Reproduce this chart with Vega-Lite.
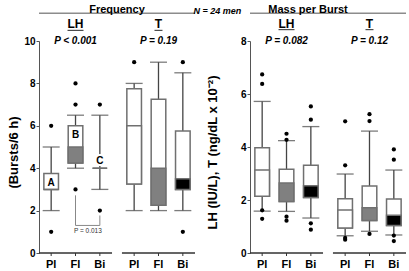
{
"$schema": "https://vega.github.io/schema/vega-lite/v6.json",
"padding": {"left": 7, "top": 4, "right": 0, "bottom": 0},
"config": {
  "font": "Liberation Sans",
  "view": {"stroke": null},
  "axisX": {"disable": true},
  "axisY": {"grid": false, "tickSize": 3, "labelPadding": 1, "labelFontSize": 10, "labelFontWeight": "bold", "labelColor": "#000", "titleFontSize": 13, "titleFontWeight": "bold", "titleColor": "#000", "domainColor": "#555", "tickColor": "#555", "titleY": 111},
  "title": {"color": "#000", "fontWeight": "bold", "font": "Liberation Sans"}
},
"title": {"text": "N = 24 men", "fontSize": 9, "fontStyle": "italic", "fontWeight": "bold", "anchor": "middle", "dx": 10, "offset": -12},
"spacing": 10,
"datasets": {
  "freqBox": [
    {"group":"LH","cond":"Pl","lo":2,"q1":3,"med":3,"q3":3.75,"hi":5,"letter":"A"},
    {"group":"LH","cond":"Fl","lo":4,"q1":4.25,"med":5,"q3":6,"hi":6.5,"letter":"B"},
    {"group":"LH","cond":"Bi","lo":3,"q1":4,"med":4,"q3":4,"hi":6.5,"letter":"C"},
    {"group":"T","cond":"Pl","lo":2,"q1":3.25,"med":6,"q3":7.75,"hi":8,"letter":""},
    {"group":"T","cond":"Fl","lo":2,"q1":2.25,"med":4,"q3":7.25,"hi":9,"letter":""},
    {"group":"T","cond":"Bi","lo":2,"q1":3,"med":3.5,"q3":5.75,"hi":8.5,"letter":""}
  ],
  "freqOut": [
    {"group":"LH","cond":"Pl","v":6},{"group":"LH","cond":"Pl","v":1},
    {"group":"LH","cond":"Fl","v":8},{"group":"LH","cond":"Fl","v":7},{"group":"LH","cond":"Fl","v":3},
    {"group":"LH","cond":"Bi","v":7},{"group":"LH","cond":"Bi","v":2},
    {"group":"T","cond":"Pl","v":9},
    {"group":"T","cond":"Bi","v":9},{"group":"T","cond":"Bi","v":1}
  ],
  "massBox": [
    {"group":"LH","cond":"Pl","lo":1.58,"q1":2.14,"med":3.13,"q3":3.97,"hi":5.72},
    {"group":"LH","cond":"Fl","lo":1.57,"q1":1.94,"med":2.64,"q3":3.16,"hi":4.24},
    {"group":"LH","cond":"Bi","lo":1.32,"q1":2.09,"med":2.54,"q3":3.31,"hi":4.77},
    {"group":"T","cond":"Pl","lo":0.65,"q1":0.94,"med":1.62,"q3":2.05,"hi":2.98},
    {"group":"T","cond":"Fl","lo":0.82,"q1":1.23,"med":1.71,"q3":2.53,"hi":4.6},
    {"group":"T","cond":"Bi","lo":0.68,"q1":1.04,"med":1.42,"q3":2.04,"hi":3.13}
  ],
  "massOut": [
    {"group":"LH","cond":"Pl","v":6.74},{"group":"LH","cond":"Pl","v":6.38},{"group":"LH","cond":"Pl","v":1.61},{"group":"LH","cond":"Pl","v":1.29},
    {"group":"LH","cond":"Fl","v":4.5},{"group":"LH","cond":"Fl","v":4.27},{"group":"LH","cond":"Fl","v":1.37},{"group":"LH","cond":"Fl","v":1.22},
    {"group":"LH","cond":"Bi","v":5.53},{"group":"LH","cond":"Bi","v":5.03},{"group":"LH","cond":"Bi","v":1.12},{"group":"LH","cond":"Bi","v":0.88},
    {"group":"T","cond":"Pl","v":4.97},{"group":"T","cond":"Pl","v":3.31},{"group":"T","cond":"Pl","v":0.57},{"group":"T","cond":"Pl","v":0.5},
    {"group":"T","cond":"Fl","v":5.24},{"group":"T","cond":"Fl","v":4.98},{"group":"T","cond":"Fl","v":0.72},
    {"group":"T","cond":"Bi","v":3.91},{"group":"T","cond":"Bi","v":3.52},{"group":"T","cond":"Bi","v":0.66},{"group":"T","cond":"Bi","v":0.45}
  ],
  "heads": [
    {"view":"freq","group":"LH","p":"P < 0.001"},
    {"view":"freq","group":"T","p":"P = 0.19"},
    {"view":"mass","group":"LH","p":"P = 0.082"},
    {"view":"mass","group":"T","p":"P = 0.12"}
  ],
  "bracket": [
    {"group":"LH","cond":"Fl","y":2.72,"ord":1},
    {"group":"LH","cond":"Fl","y":1.3,"ord":2},
    {"group":"LH","cond":"Bi","y":1.3,"ord":3},
    {"group":"LH","cond":"Bi","y":1.77,"ord":4}
  ],
  "note": [
    {"group":"LH","cond":"Bi","label":"P = 0.013","y":1.04}
  ]
},
"hconcat": [
  {
    "width": 156, "height": 212,
    "title": {"text": "Frequency", "fontSize": 11, "offset": -3},
    "layer": [
      {"data": {"name": "freqBox"}, "mark": {"type": "rule", "color": "#444", "strokeWidth": 1.3},
       "encoding": {
         "x": {"field": "group", "type": "nominal", "scale": {"domain": ["LH","T"], "paddingInner": 0.12, "paddingOuter": 0}, "axis": null},
         "xOffset": {"field": "cond", "type": "nominal", "scale": {"domain": ["Pl","Fl","Bi"], "paddingInner": 0.4, "paddingOuter": 0.2}},
         "y": {"field": "lo", "type": "quantitative", "scale": {"domain": [0,10], "nice": false}, "axis": {"title": "(Bursts/6 h)", "values": [0,2,4,6,8,10], "titlePadding": 3}},
         "y2": {"field": "hi"}}},
      {"data": {"name": "freqBox"}, "mark": {"type": "tick", "color": "#444", "size": 17, "thickness": 1.3},
       "encoding": {"x": {"field": "group", "type": "nominal"}, "xOffset": {"field": "cond", "type": "nominal"}, "y": {"field": "lo", "type": "quantitative"}}},
      {"data": {"name": "freqBox"}, "mark": {"type": "tick", "color": "#444", "size": 17, "thickness": 1.3},
       "encoding": {"x": {"field": "group", "type": "nominal"}, "xOffset": {"field": "cond", "type": "nominal"}, "y": {"field": "hi", "type": "quantitative"}}},
      {"data": {"name": "freqBox"}, "mark": {"type": "bar", "fill": "#ffffff", "stroke": "#707070", "strokeWidth": 1.5},
       "encoding": {"x": {"field": "group", "type": "nominal"}, "xOffset": {"field": "cond", "type": "nominal"}, "y": {"field": "q1", "type": "quantitative"}, "y2": {"field": "q3"}}},
      {"data": {"name": "freqBox"}, "mark": {"type": "bar", "stroke": "#707070", "strokeWidth": 1.5, "opacity": 1},
       "encoding": {"x": {"field": "group", "type": "nominal"}, "xOffset": {"field": "cond", "type": "nominal"}, "y": {"field": "q1", "type": "quantitative"}, "y2": {"field": "med"},
         "fill": {"field": "cond", "type": "nominal", "scale": {"domain": ["Pl","Fl","Bi"], "range": ["#ffffff","#808080","#000000"]}, "legend": null}}},
      {"data": {"name": "freqOut"}, "mark": {"type": "point", "filled": true, "size": 18, "color": "#000", "opacity": 1},
       "encoding": {"x": {"field": "group", "type": "nominal"}, "xOffset": {"field": "cond", "type": "nominal"}, "y": {"field": "v", "type": "quantitative"}}},
      {"data": {"name": "freqBox"}, "transform": [{"filter": "datum.letter === 'A' || datum.letter === 'B'"}],
       "mark": {"type": "text", "fontSize": 10, "fontWeight": "bold", "color": "#000", "dy": 9, "baseline": "middle"},
       "encoding": {"x": {"field": "group", "type": "nominal"}, "xOffset": {"field": "cond", "type": "nominal"}, "y": {"field": "q3", "type": "quantitative"}, "text": {"field": "letter"}}},
      {"data": {"name": "freqBox"}, "transform": [{"filter": "datum.letter === 'C'"}],
       "mark": {"type": "text", "fontSize": 10, "fontWeight": "bold", "color": "#fff", "stroke": "#fff", "strokeWidth": 4, "dy": -7, "baseline": "middle"},
       "encoding": {"x": {"field": "group", "type": "nominal"}, "xOffset": {"field": "cond", "type": "nominal"}, "y": {"field": "q3", "type": "quantitative"}, "text": {"field": "letter"}}},
      {"data": {"name": "freqBox"}, "transform": [{"filter": "datum.letter === 'C'"}],
       "mark": {"type": "text", "fontSize": 10, "fontWeight": "bold", "color": "#000", "dy": -7, "baseline": "middle"},
       "encoding": {"x": {"field": "group", "type": "nominal"}, "xOffset": {"field": "cond", "type": "nominal"}, "y": {"field": "q3", "type": "quantitative"}, "text": {"field": "letter"}}},
      {"data": {"name": "bracket"}, "mark": {"type": "line", "color": "#888", "strokeWidth": 1},
       "encoding": {"x": {"field": "group", "type": "nominal"}, "xOffset": {"field": "cond", "type": "nominal"}, "y": {"field": "y", "type": "quantitative"}, "order": {"field": "ord"}}},
      {"data": {"name": "note"}, "mark": {"type": "text", "fontSize": 6.5, "color": "#333", "align": "right", "dx": 2, "baseline": "middle"},
       "encoding": {"x": {"field": "group", "type": "nominal"}, "xOffset": {"field": "cond", "type": "nominal"}, "y": {"field": "y", "type": "quantitative"}, "text": {"field": "label"}}},
      {"data": {"name": "heads"}, "transform": [{"filter": "datum.view === 'freq'"}, {"aggregate": [{"op": "count", "as": "n"}]}],
       "mark": {"type": "rule", "color": "#8c8c8c", "strokeWidth": 1.5},
       "encoding": {"y": {"datum": 11.31}}},
      {"data": {"name": "heads"}, "transform": [{"filter": "datum.view === 'freq'"}],
       "mark": {"type": "text", "fontSize": 12, "fontWeight": "bold", "color": "#000", "baseline": "middle"},
       "encoding": {"x": {"field": "group", "type": "nominal"}, "y": {"datum": 10.78}, "text": {"field": "group"}}},
      {"data": {"name": "heads"}, "transform": [{"filter": "datum.view === 'freq'"}],
       "mark": {"type": "tick", "thickness": 1.2, "color": "#000"},
       "encoding": {"x": {"field": "group", "type": "nominal"}, "y": {"datum": 10.5}, "size": {"condition": {"test": "datum.group === 'LH'", "value": 16}, "value": 8}}},
      {"data": {"name": "heads"}, "transform": [{"filter": "datum.view === 'freq'"}],
       "mark": {"type": "text", "fontSize": 10, "fontWeight": "bold", "fontStyle": "italic", "color": "#000", "baseline": "middle"},
       "encoding": {"x": {"field": "group", "type": "nominal"}, "y": {"datum": 10}, "text": {"field": "p"}}},
      {"data": {"name": "heads"}, "transform": [{"filter": "datum.view === 'freq'"}],
       "mark": {"type": "rect", "fill": "transparent", "stroke": "#333", "strokeWidth": 1},
       "encoding": {"x": {"field": "group", "type": "nominal"}, "y": {"datum": 0}, "y2": {"datum": 0}}},
      {"data": {"name": "freqBox"}, "mark": {"type": "rule", "color": "#333", "strokeWidth": 1, "y2Offset": 3},
       "encoding": {"x": {"field": "group", "type": "nominal"}, "xOffset": {"field": "cond", "type": "nominal"}, "y": {"datum": 0}, "y2": {"datum": 0}}},
      {"data": {"name": "freqBox"}, "mark": {"type": "text", "fontSize": 11, "fontWeight": "bold", "color": "#000", "dy": 12, "baseline": "middle"},
       "encoding": {"x": {"field": "group", "type": "nominal"}, "xOffset": {"field": "cond", "type": "nominal"}, "y": {"datum": 0}, "text": {"field": "cond"}}}
    ]
  },
  {
    "width": 156, "height": 212,
    "title": {"text": "Mass per Burst", "fontSize": 11, "offset": -3, "dx": -20},
    "layer": [
      {"data": {"name": "massBox"}, "mark": {"type": "rule", "color": "#444", "strokeWidth": 1.3},
       "encoding": {
         "x": {"field": "group", "type": "nominal", "scale": {"domain": ["LH","T"], "paddingInner": 0.12, "paddingOuter": 0}, "axis": null},
         "xOffset": {"field": "cond", "type": "nominal", "scale": {"domain": ["Pl","Fl","Bi"], "paddingInner": 0.4, "paddingOuter": 0.2}},
         "y": {"field": "lo", "type": "quantitative", "scale": {"domain": [0,8], "nice": false}, "axis": {"title": "LH (IU/L), T (ng/dL x 10⁻²)", "values": [0,2,4,6,8], "titlePadding": 21}},
         "y2": {"field": "hi"}}},
      {"data": {"name": "massBox"}, "mark": {"type": "tick", "color": "#444", "size": 17, "thickness": 1.3},
       "encoding": {"x": {"field": "group", "type": "nominal"}, "xOffset": {"field": "cond", "type": "nominal"}, "y": {"field": "lo", "type": "quantitative"}}},
      {"data": {"name": "massBox"}, "mark": {"type": "tick", "color": "#444", "size": 17, "thickness": 1.3},
       "encoding": {"x": {"field": "group", "type": "nominal"}, "xOffset": {"field": "cond", "type": "nominal"}, "y": {"field": "hi", "type": "quantitative"}}},
      {"data": {"name": "massBox"}, "mark": {"type": "bar", "fill": "#ffffff", "stroke": "#707070", "strokeWidth": 1.5},
       "encoding": {"x": {"field": "group", "type": "nominal"}, "xOffset": {"field": "cond", "type": "nominal"}, "y": {"field": "q1", "type": "quantitative"}, "y2": {"field": "q3"}}},
      {"data": {"name": "massBox"}, "mark": {"type": "bar", "stroke": "#707070", "strokeWidth": 1.5, "opacity": 1},
       "encoding": {"x": {"field": "group", "type": "nominal"}, "xOffset": {"field": "cond", "type": "nominal"}, "y": {"field": "q1", "type": "quantitative"}, "y2": {"field": "med"},
         "fill": {"field": "cond", "type": "nominal", "scale": {"domain": ["Pl","Fl","Bi"], "range": ["#ffffff","#808080","#000000"]}, "legend": null}}},
      {"data": {"name": "massOut"}, "mark": {"type": "point", "filled": true, "size": 18, "color": "#000", "opacity": 1},
       "encoding": {"x": {"field": "group", "type": "nominal"}, "xOffset": {"field": "cond", "type": "nominal"}, "y": {"field": "v", "type": "quantitative"}}},
      {"data": {"name": "heads"}, "transform": [{"filter": "datum.view === 'mass'"}, {"aggregate": [{"op": "count", "as": "n"}]}],
       "mark": {"type": "rule", "color": "#8c8c8c", "strokeWidth": 1.5},
       "encoding": {"y": {"datum": 9.05}}},
      {"data": {"name": "heads"}, "transform": [{"filter": "datum.view === 'mass'"}],
       "mark": {"type": "text", "fontSize": 12, "fontWeight": "bold", "color": "#000", "baseline": "middle"},
       "encoding": {"x": {"field": "group", "type": "nominal"}, "y": {"datum": 8.63}, "text": {"field": "group"}}},
      {"data": {"name": "heads"}, "transform": [{"filter": "datum.view === 'mass'"}],
       "mark": {"type": "tick", "thickness": 1.2, "color": "#000"},
       "encoding": {"x": {"field": "group", "type": "nominal"}, "y": {"datum": 8.43}, "size": {"condition": {"test": "datum.group === 'LH'", "value": 16}, "value": 8}}},
      {"data": {"name": "heads"}, "transform": [{"filter": "datum.view === 'mass'"}],
       "mark": {"type": "text", "fontSize": 10, "fontWeight": "bold", "fontStyle": "italic", "color": "#000", "baseline": "middle"},
       "encoding": {"x": {"field": "group", "type": "nominal"}, "y": {"datum": 8}, "text": {"field": "p"}}},
      {"data": {"name": "heads"}, "transform": [{"filter": "datum.view === 'mass'"}],
       "mark": {"type": "rect", "fill": "transparent", "stroke": "#333", "strokeWidth": 1},
       "encoding": {"x": {"field": "group", "type": "nominal"}, "y": {"datum": 0}, "y2": {"datum": 0}}},
      {"data": {"name": "massBox"}, "mark": {"type": "rule", "color": "#333", "strokeWidth": 1, "y2Offset": 3},
       "encoding": {"x": {"field": "group", "type": "nominal"}, "xOffset": {"field": "cond", "type": "nominal"}, "y": {"datum": 0}, "y2": {"datum": 0}}},
      {"data": {"name": "massBox"}, "mark": {"type": "text", "fontSize": 11, "fontWeight": "bold", "color": "#000", "dy": 12, "baseline": "middle"},
       "encoding": {"x": {"field": "group", "type": "nominal"}, "xOffset": {"field": "cond", "type": "nominal"}, "y": {"datum": 0}, "text": {"field": "cond"}}}
    ]
  }
]
}
